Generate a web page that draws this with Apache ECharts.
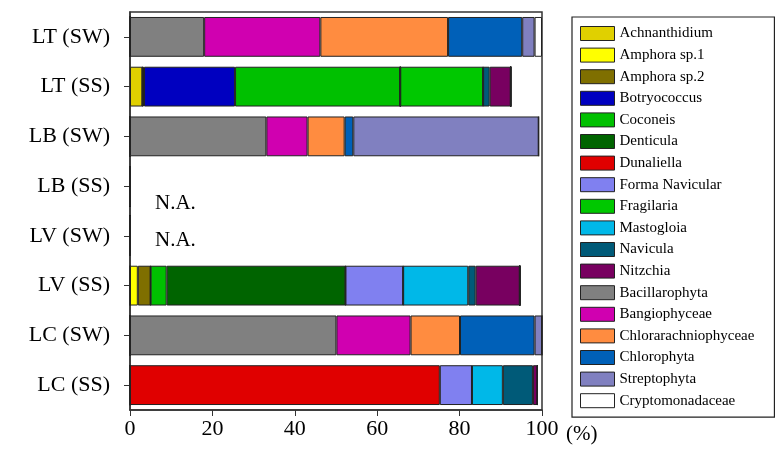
<!doctype html>
<html>
<head>
<meta charset="utf-8">
<script src="https://cdn.jsdelivr.net/npm/echarts@6/dist/echarts.min.js"></script>
<style>body{margin:0;background:#fff}#main{width:775px;height:450px}</style>
</head>
<body>
<div id="main"></div>
<script>
    // 从上到下的样点
    const sites = ['LT (SW)', 'LT (SS)', 'LB (SW)', 'LB (SS)', 'LV (SW)', 'LV (SS)', 'LC (SW)', 'LC (SS)'];
    const taxa = ['Achnanthidium', 'Amphora sp.1', 'Amphora sp.2', 'Botryococcus', 'Coconeis', 'Denticula',
        'Dunaliella', 'Forma Navicular', 'Fragilaria', 'Mastogloia', 'Navicula', 'Nitzchia', 'Bacillarophyta',
        'Bangiophyceae', 'Chlorarachniophyceae', 'Chlorophyta', 'Streptophyta', 'Cryptomonadaceae'];
    const colors = ['#e0d000', '#ffff00', '#7f6f00', '#0000c0', '#00c000', '#006400', '#e00000', '#8080f0',
        '#00c800', '#00b8e8', '#005a78', '#780060', '#808080', '#d000b0', '#ff8c40', '#0060b8', '#8080c0', '#ffffff'];
    // 每个类群在各样点的百分比（顺序同 sites）
    const values = [
        [0, 3.0, 0, 0, 0, 0, 0, 0],        // Achnanthidium
        [0, 0, 0, 0, 0, 1.9, 0, 0],        // Amphora sp.1
        [0, 0.4, 0, 0, 0, 3.1, 0, 0],      // Amphora sp.2
        [0, 22.1, 0, 0, 0, 0, 0, 0],       // Botryococcus
        [0, 40.1, 0, 0, 0, 3.9, 0, 0],     // Coconeis
        [0, 0, 0, 0, 0, 43.4, 0, 0],       // Denticula
        [0, 0, 0, 0, 0, 0, 0, 75.2],       // Dunaliella
        [0, 0, 0, 0, 0, 14.0, 0, 7.8],     // Forma Navicular
        [0, 20.1, 0, 0, 0, 0, 0, 0],       // Fragilaria
        [0, 0, 0, 0, 0, 15.8, 0, 7.5],     // Mastogloia
        [0, 1.6, 0, 0, 0, 1.8, 0, 7.3],    // Navicula
        [0, 5.1, 0, 0, 0, 10.7, 0, 1.1],   // Nitzchia
        [18.0, 0, 33.1, 0, 0, 0, 50.1, 0], // Bacillarophyta
        [28.2, 0, 10.0, 0, 0, 0, 18.0, 0], // Bangiophyceae
        [31.0, 0, 9.0, 0, 0, 0, 12.0, 0],  // Chlorarachniophyceae
        [18.0, 0, 2.1, 0, 0, 0, 18.1, 0],  // Chlorophyta
        [3.0, 0, 45.0, 0, 0, 0, 1.8, 0],   // Streptophyta
        [1.8, 0, 0, 0, 0, 0, 0, 0]         // Cryptomonadaceae
    ];

    const font = 'Liberation Serif';
    const chart = echarts.init(document.getElementById('main'));
    chart.setOption({
        animation: false,
        textStyle: {fontFamily: font},
        grid: {left: 130, right: 233, top: 12, bottom: 40, show: true, borderColor: '#333', borderWidth: 1.5},
        legend: {
            orient: 'vertical', left: 572, top: 17, width: 230, height: 403,
            padding: [9, 20, 9, 8], itemGap: 6.6, itemWidth: 34, itemHeight: 14,
            borderColor: '#222', borderWidth: 1.2,
            icon: 'rect',
            textStyle: {fontFamily: font, fontSize: 15, color: '#000'},
            itemStyle: {borderColor: '#222', borderWidth: 1},
            data: taxa
        },
        xAxis: {
            type: 'value', min: 0, max: 100, interval: 20,
            splitLine: {show: false},
            axisLine: {show: true, lineStyle: {color: '#333', width: 1.5}},
            axisTick: {show: true, length: 6, lineStyle: {color: '#333'}},
            axisLabel: {fontFamily: font, fontSize: 22, color: '#000', margin: 8}
        },
        yAxis: {
            type: 'category', data: sites, inverse: true,
            axisLine: {show: true, lineStyle: {color: '#333', width: 1.5}},
            axisTick: {show: true, alignWithLabel: true, length: 6, lineStyle: {color: '#333'}},
            axisLabel: {fontFamily: font, fontSize: 22, color: '#000', margin: 20}
        },
        graphic: [
            {type: 'text', left: 155, top: 193, style: {text: 'N.A.', font: '21px "Liberation Serif"', fill: '#000'}},
            {type: 'text', left: 155, top: 230, style: {text: 'N.A.', font: '21px "Liberation Serif"', fill: '#000'}},
            {type: 'text', left: 566, top: 424, style: {text: '(%)', font: '21px "Liberation Serif"', fill: '#000'}}
        ],
        series: taxa.map((name, i) => ({
            name: name, type: 'bar', stack: 'all', barWidth: '80%',
            itemStyle: {color: colors[i], borderColor: '#222', borderWidth: 1},
            data: values[i]
        }))
    });
</script>
</body>
</html>
